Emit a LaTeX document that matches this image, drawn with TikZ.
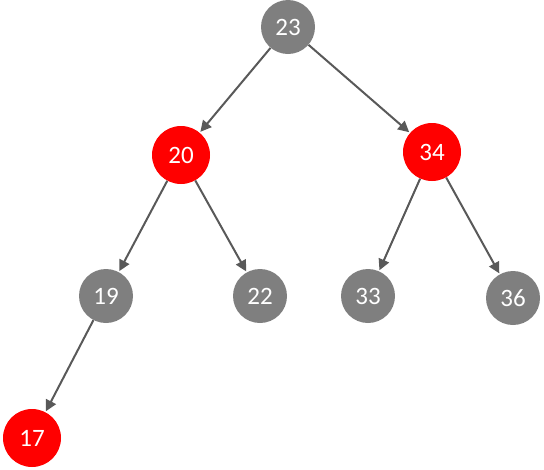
\documentclass[tikz,border=0pt]{standalone}
\usepackage{fontspec}
\setmainfont{Carlito}
\usepackage{tikz}
\usetikzlibrary{arrows.meta}
\definecolor{nodegray}{HTML}{7F7F7F}
\definecolor{nodered}{HTML}{FF0000}
\definecolor{edgegray}{HTML}{595959}
\tikzset{
  key/.style={circle, inner sep=0pt, text=white, font=\fontsize{25}{25}\selectfont},
  bnode/.style={key, fill=nodegray, minimum size=54pt},
  rnode/.style={key, fill=nodered, minimum size=58pt},
  edge/.style={-{Triangle[length=11pt,width=11pt]}, draw=edgegray, line width=2pt, shorten >=1pt},
}
\begin{document}
\begin{tikzpicture}[x=1pt,y=-1pt]
\useasboundingbox (0,0) rectangle (544,469);
\node[bnode] (n23) at (288,27) {23};
\node[rnode] (n20) at (181,155) {20};
\node[rnode] (n34) at (432,152) {34};
\node[bnode] (n19) at (106,296) {19};
\node[bnode] (n22) at (260,296) {22};
\node[bnode] (n33) at (368,296) {33};
\node[bnode] (n36) at (513,298) {36};
\node[rnode] (n17) at (32,438) {17};
\draw[edge] (n23) -- (n20);
\draw[edge] (n23) -- (n34);
\draw[edge] (n20) -- (n19);
\draw[edge] (n20) -- (n22);
\draw[edge] (n34) -- (n33);
\draw[edge] (n34) -- (n36);
\draw[edge] (n19) -- (n17);
\end{tikzpicture}
\end{document}
